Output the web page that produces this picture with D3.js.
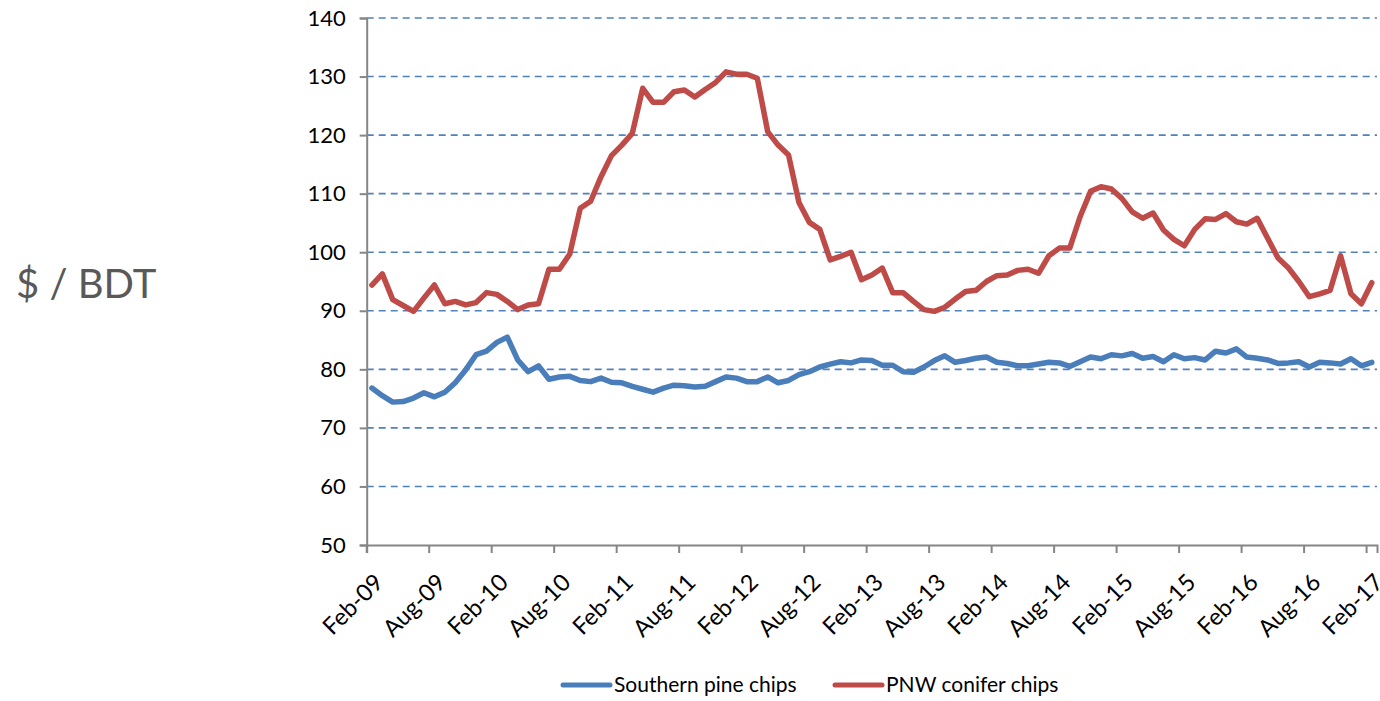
<!DOCTYPE html>
<html>
<head>
<meta charset="utf-8">
<script src="https://cdn.jsdelivr.net/npm/d3@7"></script>
<style>
  body { margin: 0; background: white; }
  svg text { font-family: Lato, "Open Sans", sans-serif; }
</style>
</head>
<body>
<svg id="chart" width="1380" height="701"></svg>
<script>
// monthly categories Feb-09 .. Feb-17
const months = d3.timeMonth.range(new Date(2009, 1, 1), new Date(2017, 2, 1));
const tickEvery = 6;
const yTicks = [50, 60, 70, 80, 90, 100, 110, 120, 130, 140];

const southernPine = [
    76.8, 75.5, 74.4, 74.5, 75.1, 76.0, 75.3, 76.1, 77.7, 79.9,
    82.5, 83.1, 84.6, 85.5, 81.6, 79.6, 80.6, 78.3, 78.7, 78.8,
    78.1, 77.9, 78.5, 77.8, 77.7, 77.1, 76.6, 76.1, 76.8, 77.3,
    77.2, 77.0, 77.1, 77.9, 78.7, 78.5, 77.9, 77.9, 78.7, 77.7,
    78.1, 79.1, 79.6, 80.4, 80.9, 81.3, 81.1, 81.6, 81.5, 80.7,
    80.7, 79.6, 79.5, 80.4, 81.5, 82.3, 81.2, 81.5, 81.9, 82.1,
    81.2, 81.0, 80.6, 80.6, 80.9, 81.2, 81.1, 80.5, 81.3, 82.1,
    81.8, 82.5, 82.3, 82.7, 81.9, 82.2, 81.3, 82.5, 81.8, 82.0,
    81.6, 83.1, 82.8, 83.5, 82.1, 81.9, 81.6, 81.0, 81.1, 81.3,
    80.4, 81.2, 81.1, 80.9, 81.8, 80.6, 81.2
];

const pnwConifer = [
    94.4, 96.3, 91.9, 90.9, 89.9, 92.2, 94.4, 91.2, 91.6, 91.0,
    91.4, 93.1, 92.8, 91.6, 90.2, 91.0, 91.2, 97.1, 97.1, 99.7,
    107.5, 108.7, 112.9, 116.5, 118.3, 120.3, 128.0, 125.6, 125.6, 127.4,
    127.7, 126.5, 127.8, 129.0, 130.8, 130.4, 130.4, 129.7, 120.6, 118.3,
    116.6, 108.5, 105.1, 103.9, 98.7, 99.3, 100.0, 95.3, 96.1, 97.3,
    93.1, 93.1, 91.6, 90.2, 89.9, 90.6, 92.0, 93.3, 93.5, 95.0,
    96.0, 96.1, 96.9, 97.1, 96.4, 99.4, 100.7, 100.7, 106.1, 110.4,
    111.2, 110.8, 109.2, 106.9, 105.8, 106.7, 103.8, 102.2, 101.1, 103.9,
    105.7, 105.6, 106.6, 105.2, 104.8, 105.8, 102.4, 99.0, 97.3, 95.0,
    92.4, 92.9, 93.5, 99.4, 92.9, 91.2, 94.8
];

const seriesNames = ["Southern pine chips", "PNW conifer chips"];
const seriesColours = ["#4A7EBB", "#BE4B48"];

const svg = d3.select("#chart");
const fmt = d3.timeFormat("%b-%y");

const xScale = d3.scaleBand()
    .domain(months.map(d => +d))
    .range([366.7, 1377])
    .paddingInner(0)
    .paddingOuter(0);

const yScale = d3.scaleLinear()
    .domain([50, 140])
    .range([545, 18]);

const left = xScale.range()[0];
const right = xScale.range()[1];
const bottom = yScale.range()[0];

// gridlines
svg.append("g")
    .selectAll("line")
    .data(yTicks.filter(t => t > 50))
    .join("line")
    .attr("x1", left)
    .attr("x2", right)
    .attr("y1", d => yScale(d))
    .attr("y2", d => yScale(d))
    .attr("stroke", "#4F81BD")
    .attr("stroke-width", 1.6)
    .attr("stroke-dasharray", "7,5");

// y axis
const yAxis = svg.append("g")
    .attr("transform", `translate(${left},0)`)
    .call(d3.axisLeft(yScale).tickValues(yTicks).tickSize(7).tickPadding(14).tickFormat(d3.format("d")));
yAxis.select(".domain").attr("stroke", "#868686").attr("stroke-width", 2);
yAxis.selectAll(".tick line").attr("stroke", "#868686").attr("stroke-width", 2);
yAxis.selectAll(".tick text").attr("font-size", 22).attr("fill", "#000");

// x axis
const xTickVals = months.filter((d, i) => i % tickEvery === 0).map(d => +d);
const xAxis = svg.append("g")
    .attr("transform", `translate(0,${bottom})`)
    .call(d3.axisBottom(xScale).tickValues(xTickVals).tickSize(8).tickFormat(d => fmt(new Date(d))));
xAxis.select(".domain").attr("stroke", "#868686").attr("stroke-width", 2);
xAxis.selectAll(".tick").attr("transform", d => `translate(${xScale(d)},0)`);
xAxis.selectAll(".tick line").attr("stroke", "#868686").attr("stroke-width", 2);
xAxis.selectAll(".tick text")
    .attr("font-size", 23.5)
    .attr("fill", "#000")
    .attr("text-anchor", "end")
    .attr("y", 0)
    .attr("dy", "0.72em")
    .attr("transform", "translate(6,27) rotate(-45)");

// lines
const line = d3.line()
    .x((d, i) => xScale(+months[i]) + xScale.bandwidth() / 2)
    .y(d => yScale(d));

[southernPine, pnwConifer].forEach((values, k) => {
    svg.append("path")
        .datum(values)
        .attr("fill", "none")
        .attr("stroke", seriesColours[k])
        .attr("stroke-width", 5.5)
        .attr("stroke-linejoin", "round")
        .attr("stroke-linecap", "round")
        .attr("d", line);
});

// y label
svg.append("text")
    .attr("x", 16)
    .attr("y", 284)
    .attr("dy", "0.35em")
    .attr("font-size", 40)
    .attr("fill", "#595959")
    .text("$ / BDT");

// legend
const legendX = [563, 835];
const legend = svg.append("g")
    .selectAll("g")
    .data(seriesNames)
    .join("g")
    .attr("transform", (d, i) => `translate(${legendX[i]},685)`);

legend.append("line")
    .attr("x1", 0)
    .attr("x2", 47)
    .attr("stroke", (d, i) => seriesColours[i])
    .attr("stroke-width", 5)
    .attr("stroke-linecap", "round");

legend.append("text")
    .attr("x", 51)
    .attr("dy", "0.35em")
    .attr("font-size", 21)
    .attr("fill", "#000")
    .text(d => d);
</script>
</body>
</html>
